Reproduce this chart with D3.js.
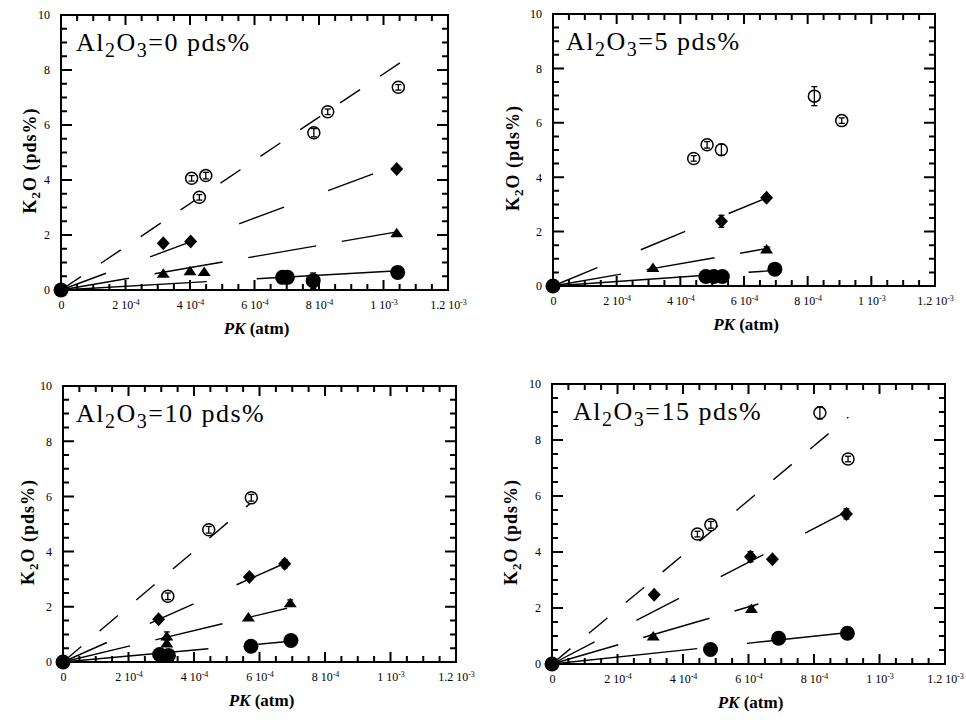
<!DOCTYPE html>
<html><head><meta charset="utf-8">
<script src="https://cdn.jsdelivr.net/npm/d3@7"></script>
<style>body{margin:0;background:#fff}</style>
</head><body><svg id="c" width="966" height="720"></svg>
<script>
// ---------------- data ----------------
const alumina = ["0", "5", "10", "15"];
const xTickValues = [0, 2e-4, 4e-4, 6e-4, 8e-4, 1e-3, 1.2e-3];
const xTickMantissa = ["0", "2", "4", "6", "8", "1", "1.2"];
const xTickExponent = ["", "-4", "-4", "-4", "-4", "-3", "-3"];
const yTickValues = [0, 2, 4, 6, 8, 10];

// [PK (atm), K2O (pds%), error]
const openCircles = [
  [[4.05e-4, 4.06, 0.1], [4.49e-4, 4.16, 0.12], [4.29e-4, 3.37, 0.1], [7.84e-4, 5.72, 0.15], [8.27e-4, 6.48, 0.1], [10.46e-4, 7.37, 0.1]],
  [[4.42e-4, 4.69, 0.1], [4.84e-4, 5.19, 0.12], [5.29e-4, 5.01, 0.2], [8.21e-4, 6.98, 0.35], [9.07e-4, 6.08, 0.1]],
  [[3.20e-4, 2.38, 0.12], [4.45e-4, 4.79, 0.12], [5.75e-4, 5.95, 0.12]],
  [[4.44e-4, 4.64, 0.1], [4.85e-4, 4.97, 0.12], [8.18e-4, 8.97, 0.22], [9.04e-4, 7.32, 0.1]]
];
const diamonds = [
  [[3.17e-4, 1.70, 0.1], [4.02e-4, 1.76, 0], [10.41e-4, 4.40, 0]],
  [[5.29e-4, 2.38, 0.22], [6.71e-4, 3.24, 0.1]],
  [[2.92e-4, 1.55, 0], [5.69e-4, 3.08, 0], [6.77e-4, 3.56, 0.15]],
  [[3.12e-4, 2.47, 0], [6.06e-4, 3.83, 0.18], [6.73e-4, 3.74, 0], [8.99e-4, 5.36, 0.18]]
];
const triangles = [
  [[3.17e-4, 0.61, 0], [4.0e-4, 0.70, 0], [4.44e-4, 0.67, 0], [10.41e-4, 2.08, 0]],
  [[3.14e-4, 0.68, 0], [6.71e-4, 1.36, 0.08]],
  [[3.17e-4, 0.94, 0.15], [3.17e-4, 0.69, 0], [5.66e-4, 1.63, 0], [6.94e-4, 2.15, 0.1]],
  [[3.09e-4, 1.0, 0.05], [6.09e-4, 1.98, 0.08]]
];
const filledCircles = [
  [[0, 0, 0], [6.87e-4, 0.46, 0], [7.02e-4, 0.46, 0], [7.82e-4, 0.34, 0.28], [10.44e-4, 0.64, 0]],
  [[0, 0, 0], [4.80e-4, 0.35, 0], [5.05e-4, 0.35, 0], [5.32e-4, 0.35, 0], [6.97e-4, 0.62, 0]],
  [[0, 0, 0], [2.95e-4, 0.27, 0], [3.22e-4, 0.24, 0], [5.74e-4, 0.57, 0], [6.96e-4, 0.78, 0.1]],
  [[0, 0, 0], [4.84e-4, 0.52, 0], [6.92e-4, 0.92, 0], [9.02e-4, 1.10, 0]]
];

// fitted lines through the origin: slope (pds% per atm) and last PK
const fitSlopeOpen = [7860, null, 10050, 9740];
const fitEndOpen = [10.6e-4, null, 5.8e-4, 9.05e-4];
const fitSlopeDiamond = [4360, 4830, 5280, 6050];
const fitEndDiamond = [10.0e-4, 6.81e-4, 6.79e-4, 8.99e-4];
const fitSlopeTriangle = [2030, 2050, 2850, 3400];
const fitEndTriangle = [10.46e-4, 6.83e-4, 6.84e-4, 6.3e-4];
const fitSlopeFilled = [670, 820, 1080, 1240];
const fitEndFilled = [10.46e-4, 6.92e-4, 6.94e-4, 8.99e-4];

// ---------------- layout / style ----------------
const boxes = [
  {l: 61, t: 15, r: 448, b: 290, yl: -25, tx: 15},
  {l: 553, t: 14, r: 935, b: 286, yl: -34, tx: 13},
  {l: 63, t: 386, r: 456, b: 662, yl: -29, tx: 13},
  {l: 552, t: 384, r: 945, b: 664, yl: -35, tx: 21}
];
const serif = "'Liberation Serif','Times New Roman',serif";
const dashOpen = "24,24", dashDiamond = "48,47", dashTriangle = "69,26", dashFilled = "146,50";

const svg = d3.select("#c");
const scales = [];

boxes.forEach((bx, p) => {
  const x = d3.scaleLinear().domain([0, 1.2e-3]).range([bx.l, bx.r]);
  const y = d3.scaleLinear().domain([0, 10]).range([bx.b, bx.t]);
  scales.push([x, y]);
  const g = svg.append("g");

  // frame
  g.append("rect").attr("x", bx.l).attr("y", bx.t).attr("width", bx.r - bx.l).attr("height", bx.b - bx.t)
    .attr("fill", "none").attr("stroke", "#000").attr("stroke-width", 2);

  // tick labels via axes
  const xa = g.append("g").attr("transform", `translate(0,${bx.b})`)
    .call(d3.axisBottom(x).tickValues(xTickValues).tickSize(0).tickPadding(10).tickFormat(""));
  const ya = g.append("g").attr("transform", `translate(${bx.l},0)`)
    .call(d3.axisLeft(y).tickValues(yTickValues).tickSize(0).tickPadding(11).tickFormat(d3.format("d")));
  [xa, ya].forEach(a => {
    a.select(".domain").remove();
    a.selectAll("line").remove();
    a.selectAll("text").attr("font-family", serif).attr("font-size", 12).attr("fill", "#000");
  });
  xa.selectAll(".tick text").each(function (d, i) {
    const t = d3.select(this).text(null);
    if (xTickExponent[i] === "") { t.text(xTickMantissa[i]); return; }
    t.append("tspan").text(xTickMantissa[i] + " 10");
    t.append("tspan").attr("dy", "-0.45em").attr("font-size", 8).text(xTickExponent[i]);
  });

  // fitted lines
  const line = d3.line().x(d => x(d[0])).y(d => y(d[1]));
  const fits = [
    [fitSlopeOpen[p], fitEndOpen[p], dashOpen],
    [fitSlopeDiamond[p], fitEndDiamond[p], dashDiamond],
    [fitSlopeTriangle[p], fitEndTriangle[p], dashTriangle],
    [fitSlopeFilled[p], fitEndFilled[p], dashFilled]
  ];
  fits.forEach(([s, e, dash]) => {
    if (s == null) return;
    g.append("path").datum([[0, 0], [e, s * e]]).attr("d", line)
      .attr("fill", "none").attr("stroke", "#000").attr("stroke-width", 1.4).attr("stroke-dasharray", dash);
  });

  // markers
  const mk = g.append("g");
  mk.append("g").selectAll("circle").data(filledCircles[p]).join("circle")
    .attr("cx", d => x(d[0])).attr("cy", d => y(d[1])).attr("r", 7.5).attr("fill", "#000");
  mk.append("g").selectAll("path").data(triangles[p]).join("path")
    .attr("transform", d => `translate(${x(d[0])},${y(d[1])})`)
    .attr("d", "M0,-5L6.5,4.5L-6.5,4.5Z").attr("fill", "#000");
  mk.append("g").selectAll("path").data(diamonds[p]).join("path")
    .attr("transform", d => `translate(${x(d[0])},${y(d[1])})`)
    .attr("d", "M0,-7L6.5,0L0,7L-6.5,0Z").attr("fill", "#000");
  mk.append("g").selectAll("circle").data(openCircles[p]).join("circle")
    .attr("cx", d => x(d[0])).attr("cy", d => y(d[1])).attr("r", 6)
    .attr("fill", "#fff").attr("stroke", "#000").attr("stroke-width", 1.5);

  // error bars
  const allPts = [].concat(openCircles[p], diamonds[p], triangles[p], filledCircles[p]).filter(d => d[2] > 0);
  const eb = g.append("g").attr("stroke", "#000").attr("stroke-width", 1.3);
  allPts.forEach(d => {
    const cx = x(d[0]), y1 = y(d[1] - d[2]), y2 = y(d[1] + d[2]);
    eb.append("line").attr("x1", cx).attr("x2", cx).attr("y1", y1).attr("y2", y2);
    eb.append("line").attr("x1", cx - 3).attr("x2", cx + 3).attr("y1", y1).attr("y2", y1);
    eb.append("line").attr("x1", cx - 3).attr("x2", cx + 3).attr("y1", y2).attr("y2", y2);
  });

  // panel title
  const tt = g.append("text").attr("x", bx.l + bx.tx).attr("y", bx.t + 36)
    .attr("font-family", serif).attr("font-size", 26).attr("letter-spacing", 1.5);
  tt.append("tspan").text("Al");
  tt.append("tspan").attr("dy", 6).attr("font-size", 20).text("2");
  tt.append("tspan").attr("dy", -6).text("O");
  tt.append("tspan").attr("dy", 6).attr("font-size", 20).text("3");
  tt.append("tspan").attr("dy", -6).text("=" + alumina[p] + " pds%");

  // y label
  const yl = g.append("text")
    .attr("transform", `translate(${bx.l + bx.yl},${(bx.t + bx.b) / 2 + 8}) rotate(-90)`)
    .attr("text-anchor", "middle").attr("font-family", serif).attr("font-weight", "bold")
    .attr("font-size", 18).attr("letter-spacing", 1);
  yl.append("tspan").text("K");
  yl.append("tspan").attr("dy", 4).attr("font-size", 13).text("2");
  yl.append("tspan").attr("dy", -4).text("O (pds%)");

  // x label
  const xl = g.append("text").attr("x", (bx.l + bx.r) / 2 + 2).attr("y", bx.b + 44)
    .attr("text-anchor", "middle").attr("font-family", serif).attr("font-weight", "bold").attr("font-size", 17);
  xl.append("tspan").attr("font-style", "italic").text("PK");
  xl.append("tspan").text(" (atm)");
});

// tick marks on all four sides of every panel, pointing inward (drawn last, on top)
const xMinor = d3.range(0, 1.2e-3 + 1e-9, 5e-5);
const yMinor = d3.range(0, 10.001, 0.5);
const majX = d => Math.abs(d / 2e-4 - Math.round(d / 2e-4)) < 1e-6;
const majY = d => Math.abs(d / 2 - Math.round(d / 2)) < 1e-6;
const tp = d3.path();
boxes.forEach((bx, p) => {
  const [x, y] = scales[p];
  xMinor.forEach(d => {
    const len = majX(d) ? 10 : 6;
    tp.moveTo(x(d), bx.b); tp.lineTo(x(d), bx.b - len);
    tp.moveTo(x(d), bx.t); tp.lineTo(x(d), bx.t + len);
  });
  yMinor.forEach(d => {
    const len = majY(d) ? 11 : 6;
    tp.moveTo(bx.l, y(d)); tp.lineTo(bx.l + len, y(d));
    tp.moveTo(bx.r, y(d)); tp.lineTo(bx.r - len, y(d));
  });
});
svg.append("path").attr("d", tp.toString()).attr("fill", "none").attr("stroke", "#000").attr("stroke-width", 2);
</script>
</body></html>
